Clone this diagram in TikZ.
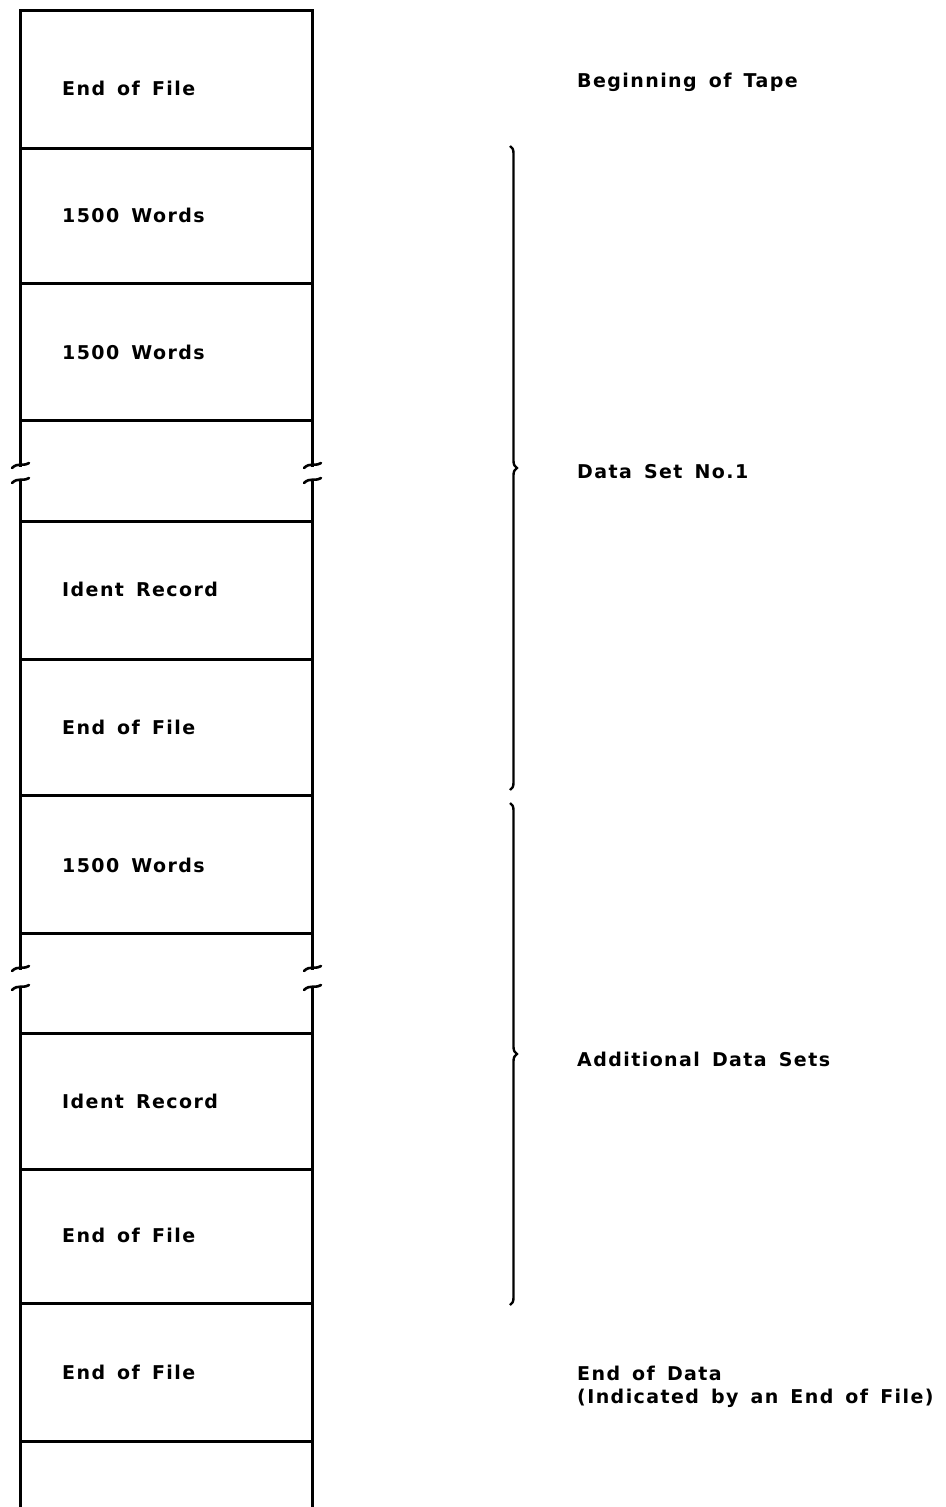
\documentclass[tikz,border=0pt]{standalone}
\usepackage{fontspec}
\newfontfamily\tapefont{DejaVu Sans}[LetterSpace=7.5, WordSpace=1.5]
\usetikzlibrary{decorations.pathreplacing}

\begin{document}
\begin{tikzpicture}[x=1pt, y=-1pt,
    tape/.style={line width=3pt, line cap=rect},
    cut/.style={line width=2.6pt, line cap=round},
    bracket/.style={decorate, decoration={brace, amplitude=7pt}, line width=2.4pt},
    celltext/.style={anchor=base west, inner sep=0pt, font=\tapefont\bfseries\fontsize{19}{23}\selectfont},
    sidetext/.style={anchor=base west, inner sep=0pt, font=\tapefont\bfseries\fontsize{19}{23}\selectfont}]
  \useasboundingbox (0,0) rectangle (945,1507);
  % sides of the tape, cut twice
  \foreach \x in {20,312} {
    \draw[tape] (\x,10) -- (\x,465);
    \draw[tape] (\x,480) -- (\x,968);
    \draw[tape] (\x,987) -- (\x,1507);
  }
  % record gaps
  \foreach \y in {10,148,283,420,521,659,795,933,1033,1169,1303,1441}
    \draw[tape] (20,\y) -- (312,\y);
  % break marks
  \foreach \x in {20,312}
    \foreach \y in {465,480,968,987}
      \draw[cut] (\x-8,\y+3) .. controls (\x-2,\y-3) and (\x+2,\y+2) .. (\x+9,\y-2);

  % records
  \node[celltext] (eof0) at (62,95) {End of File};
  \node[celltext] (wa) at (62,222) {1500 Words};
  \node[celltext] (wb) at (62,359) {1500 Words};
  \node[celltext] (ida) at (62,596) {Ident Record};
  \node[celltext] (eofa) at (62,734) {End of File};
  \node[celltext] (wc) at (62,872) {1500 Words};
  \node[celltext] (idb) at (62,1108) {Ident Record};
  \node[celltext] (eofb) at (62,1242) {End of File};
  \node[celltext] (eofc) at (62,1379) {End of File};

  % right side
  \draw[bracket] (510,146) -- (510,790);
  \draw[bracket] (510,803) -- (510,1305);
  \node[sidetext] (bot) at (577,87) {Beginning of Tape};
  \node[sidetext] (set1) at (577,478) {Data Set No.1};
  \node[sidetext] (more) at (577,1066) {Additional Data Sets};
  \node[sidetext] (eod) at (577,1380) {End of Data};
  \node[sidetext] (eodnote) at (577,1403) {(Indicated by an End of File)};
\end{tikzpicture}
\end{document}
